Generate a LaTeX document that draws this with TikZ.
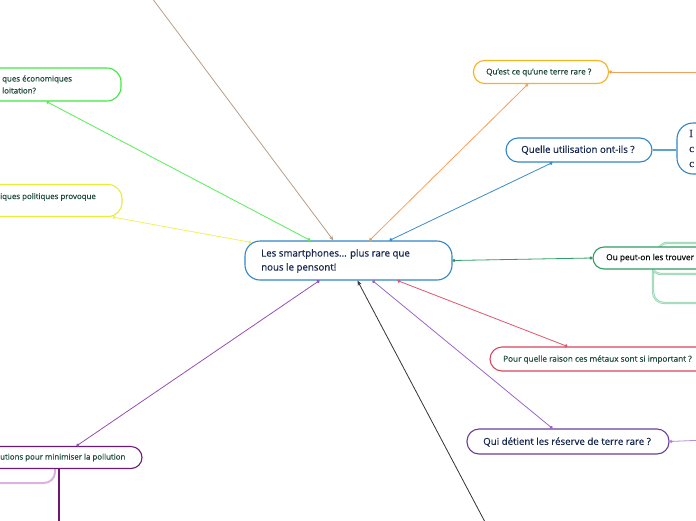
\documentclass[tikz,border=0pt]{standalone}
\usepackage{fontspec}
\setmainfont{Open Sans}[FakeBold=0.5]
\newfontfamily\serifx{Liberation Serif}[FakeBold=0.5]
\usetikzlibrary{arrows.meta,calc}
\definecolor{cblue}{HTML}{2F86C8}
\definecolor{navy}{HTML}{15264F}
\definecolor{dgreen}{HTML}{1E4A3B}
\definecolor{brightgreen}{HTML}{3DEB3D}
\definecolor{lgreenline}{HTML}{55EE55}
\definecolor{yel}{HTML}{E6EE3A}
\definecolor{yelline}{HTML}{EEF25E}
\definecolor{tan}{HTML}{B89F84}
\definecolor{gold}{HTML}{F4B420}
\definecolor{orangeline}{HTML}{F5A05A}
\definecolor{blueline}{HTML}{3A8CC4}
\definecolor{icline}{HTML}{5AA2D4}
\definecolor{ougreen}{HTML}{2F9E62}
\definecolor{subgreen}{HTML}{8FD1AC}
\definecolor{subgreenin}{HTML}{D6EFE2}
\definecolor{redb}{HTML}{D9475F}
\definecolor{redline}{HTML}{E0566A}
\definecolor{purp}{HTML}{6A3D9A}
\definecolor{purpline}{HTML}{9A66CC}
\definecolor{lav}{HTML}{B08FD6}
\definecolor{dpurp}{HTML}{6B1A7A}
\definecolor{dpurpline}{HTML}{9650B0}
\definecolor{lpurp}{HTML}{D9B3DD}
\definecolor{vpurp}{HTML}{6E1675}
\definecolor{darkline}{HTML}{333333}
\begin{document}
\begin{tikzpicture}[x=1pt,y=-1pt,
  box/.style={draw, rectangle, fill=white, line width=1.1pt, inner sep=0pt},
  bigtxt/.style={anchor=west, inner sep=0pt, align=left, text=navy, font=\fontsize{9.7}{14}\selectfont},
  smalltxt/.style={anchor=west, inner sep=0pt, align=left, text=dgreen, font=\fontsize{7.9}{12}\selectfont},
  conn/.style={line width=0.8pt, {Circle[length=3.2pt]}-{Circle[length=3.2pt]}},
  rel/.style={line width=0.8pt, -{Stealth[length=5pt,width=4pt]}}
]
\useasboundingbox (0,0) rectangle (696,520);
\clip (0,0) rectangle (696,520);

% ---------- free ends ----------
\coordinate (tanstart) at (152,-2);
\coordinate (blackstart) at (485,522);
\coordinate (quR) at (705,72);
\coordinate (qdR) at (705,440);

% ---------- nodes ----------
\node[box, draw=cblue, rounded corners=15pt, minimum width=207pt, minimum height=39pt] (central) at (348.5,260.5) {};
\node[bigtxt] (centraltxt) at (261,261) {Les smartphones... plus rare que\\nous le pensont!};

\node[box, draw=brightgreen, rounded corners=14pt, minimum width=181pt, minimum height=33pt] (gl) at (30.5,84.5) {};
\node[smalltxt] (gltxt) at (2,84.5) {ques économiques\\loitation?};

\node[box, draw=yel, rounded corners=14pt, minimum width=182pt, minimum height=32pt] (yl) at (31,200.5) {};
\node[smalltxt] (yltxt) at (0,197) {iques politiques provoque};

\node[box, draw=gold, rounded corners=11pt, minimum width=135pt, minimum height=23pt] (qu) at (541,72) {};
\node[smalltxt, font=\fontsize{8.1}{12}\selectfont] (qutxt) at (486,72.5) {Qu'est ce qu'une terre rare ?};

\node[box, draw=cblue, rounded corners=12pt, minimum width=146pt, minimum height=24pt] (qutil) at (579,150) {};
\node[bigtxt] (qutiltxt) at (521,150) {Quelle utilisation ont-ils ?};

\node[box, draw=cblue, rounded corners=16pt, minimum width=160pt, minimum height=51pt] (ic) at (757,148.5) {};
\node[bigtxt, font=\serifx\fontsize{11}{15}\selectfont] (ictxt) at (689,148.5) {I\\c\\c};

% sub-branches of "Ou peut-on"
\draw[subgreen, line width=2.2pt] (654,249) to[out=-80,in=180] (666,243) -- (705,243);
\draw[subgreenin, line width=0.7pt] (654,249) to[out=-80,in=180] (666,243) -- (705,243);
\draw[subgreen, line width=2.2pt] (653,268) -- (653,292) to[out=-90,in=180] (664,303) -- (705,303);
\draw[subgreenin, line width=0.7pt] (653,268) -- (653,292) to[out=-90,in=180] (664,303) -- (705,303);
\draw[subgreen, line width=2.2pt] (653,268) to[out=-90,in=180] (662,274) -- (705,274);
\draw[subgreenin, line width=0.7pt] (653,268) to[out=-90,in=180] (662,274) -- (705,274);

\node[box, draw=ougreen, rounded corners=11pt, minimum width=134pt, minimum height=22pt] (ou) at (660,258) {};
\node[smalltxt, text=black!80!dgreen, font=\fontsize{8.3}{12}\selectfont] (outxt) at (606,258) {Ou peut-on les trouver ?};

\node[box, draw=redb, rounded corners=12pt, minimum width=220pt, minimum height=24pt] (pq) at (600,359) {};
\node[smalltxt, font=\fontsize{8.2}{12}\selectfont] (pqtxt) at (503,359.5) {Pour quelle raison ces métaux sont si important ?};

\node[box, draw=purp, rounded corners=12pt, minimum width=202pt, minimum height=25pt] (qd) at (568,441.5) {};
\node[bigtxt] (qdtxt) at (483,442) {Qui détient les réserve de terre rare ?};

% bottom-left sub-branches
\draw[lpurp, line width=2pt] (-5,483) -- (44,483) to[out=0,in=-90] (55,472) -- (55,466);
\draw[vpurp, line width=2.8pt] (59,466) -- (59,525);

\node[box, draw=dpurp, rounded corners=11pt, minimum width=202pt, minimum height=22pt] (bl) at (41,457.5) {};
\node[smalltxt] (bltxt) at (0,457.5) {utions pour minimiser la pollution};

% ---------- connectors ----------
\draw[rel, tan] (tanstart) -- ($(central.north west)+(89,0)$);
\draw[conn, lgreenline] ($(gl.south west)+(107,0)$) -- ($(central.north west)+(66,0)$);
\draw[conn, yelline] ($(yl.south west)+(173,0)$) -- ($(central.north west)+(7,2)$);
\draw[conn, orangeline] ($(qu.south west)+(55,0)$) -- ($(central.north west)+(125,0)$);
\draw[conn, orangeline] (qu.east) -- (quR);
\draw[conn, blueline] ($(qutil.south west)+(47,0)$) -- ($(central.north west)+(145,0)$);
\draw[icline, line width=1.3pt] (qutil.east) -- (qutil.east -| ic.west);
\draw[conn, ougreen] (central.east) -- (ou.west);
\draw[conn, redline] ($(central.south west)+(153,0)$) -- ($(pq.north west)+(78,0)$);
\draw[conn, purpline] ($(central.south west)+(128,0)$) -- ($(qd.north west)+(86,0)$);
\draw[conn, lav] (qd.east) -- (qdR);
\draw[rel, darkline] (blackstart) -- ($(central.south west)+(113,0)$);
\draw[conn, dpurpline] ($(central.south west)+(75,0)$) -- ($(bl.north west)+(137,0)$);
\end{tikzpicture}
\end{document}
